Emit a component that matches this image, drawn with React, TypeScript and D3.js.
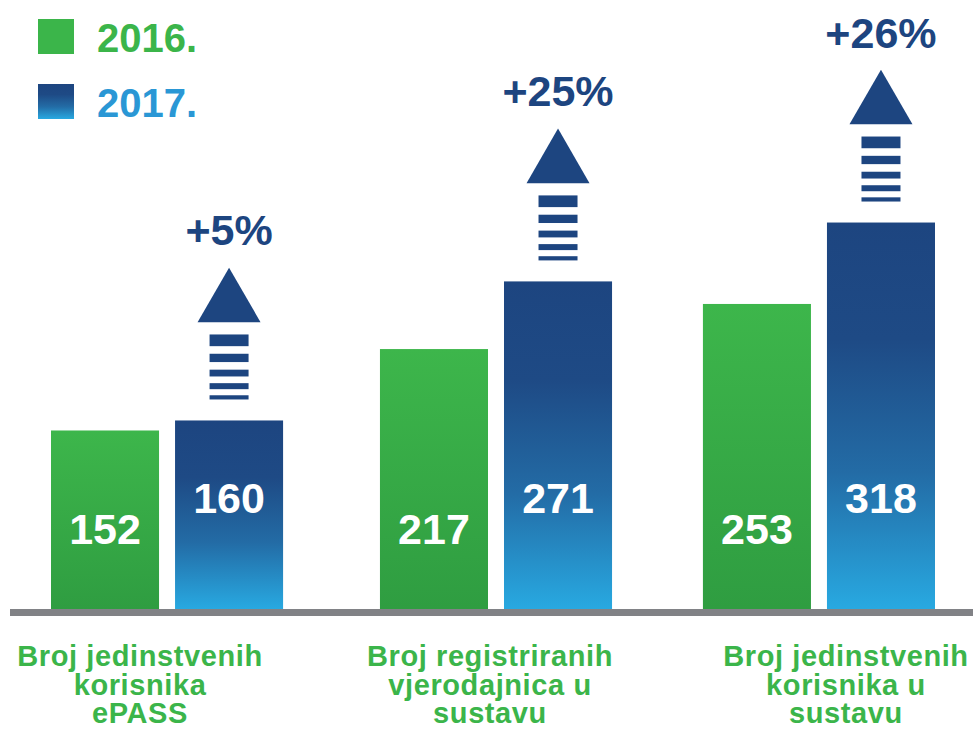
import React from "react";
import * as d3 from "d3";

// category labels (each line of the wrapped label)
const categories = [
  ["Broj jedinstvenih", "korisnika", "ePASS"],
  ["Broj registriranih", "vjerodajnica u", "sustavu"],
  ["Broj jedinstvenih", "korisnika u", "sustavu"],
];
const years = ["2016.", "2017."];
const values2016 = [152, 217, 253];
const values2017 = [160, 271, 318];
const growthLabels = ["+5%", "+25%", "+26%"];

const W = 973;
const H = 729;
const FONT = "'Liberation Sans', Arial, Helvetica, sans-serif";
const GREEN = "#3bb54a";
const NAVY = "#1d4580";
const LIGHT_BLUE = "#2a97d5";

// the middle group sits a little right of an even spacing in the original
const groupNudge = [0, 3, 0];
// labels below the axis are not exactly centred on their groups
const labelShift = [-27, -6, 27];

// stripes of the arrow, relative to the arrow's bottom
const stripes = [
  [-65, -53.3],
  [-45.7, -37.4],
  [-29.8, -23],
  [-16.3, -10.3],
  [-4.2, 0],
];

export default function App() {
  const keys = categories.map((_, i) => String(i));
  const baseline = 609;

  const x = d3.scaleBand<string>().domain(keys).range([51, 935]).paddingInner(0.288);
  const xs = d3.scaleBand<string>().domain(years).range([0, x.bandwidth()]).paddingInner(0.129);
  const y = d3.scaleLinear().domain([9.5, 330]).range([baseline, 207.5]);

  const series = [values2016, values2017];
  const gx = (k: string, i: number) => x(k)! + groupNudge[i];

  return (
    <svg
      width={W}
      height={H}
      style={{ position: "absolute", left: 0, top: 0, background: "#fff" }}
      fontFamily={FONT}
      fontWeight="bold"
    >
      <defs>
        <linearGradient id="gGreen" x1="0" y1="0" x2="0" y2="1">
          <stop offset="0" stopColor="#3db64b" />
          <stop offset="1" stopColor="#2f9d41" />
        </linearGradient>
        <linearGradient id="gBlue" x1="0" y1="0" x2="0" y2="1">
          <stop offset="0" stopColor="#1d4580" />
          <stop offset="0.3" stopColor="#1e4a85" />
          <stop offset="0.65" stopColor="#236ca6" />
          <stop offset="1" stopColor="#28a9e1" />
        </linearGradient>
      </defs>

      {/* legend */}
      <rect x={38} y={19} width={36} height={35} fill={GREEN} />
      <text x={97} y={52} fontSize={40} fill={GREEN}>{years[0]}</text>
      <rect x={38} y={84} width={36} height={35} fill="url(#gBlue)" />
      <text x={97} y={117} fontSize={40} fill={LIGHT_BLUE}>{years[1]}</text>

      {/* bars */}
      {keys.map((k, i) => (
        <g key={k} transform={`translate(${gx(k, i)},0)`}>
          {years.map((yr, j) => {
            const v = series[j][i];
            const bx = xs(yr)!;
            const bw = xs.bandwidth();
            return (
              <g key={yr}>
                <rect
                  x={bx}
                  y={y(v)}
                  width={bw}
                  height={baseline - y(v)}
                  fill={j === 0 ? "url(#gGreen)" : "url(#gBlue)"}
                />
                <text
                  x={bx + bw / 2}
                  y={j === 0 ? 544 : 513}
                  textAnchor="middle"
                  fontSize={43}
                  fill="#fff"
                >
                  {v}
                </text>
              </g>
            );
          })}
          {(() => {
            const cx = xs("2017.")! + xs.bandwidth() / 2;
            const bottom = y(values2017[i]) - 21;
            return (
              <g>
                {stripes.map(([t, b], s) => (
                  <rect key={s} x={cx - 19.5} y={bottom + t} width={39} height={b - t} fill={NAVY} />
                ))}
                <path
                  d={`M${cx},${bottom - 131.8}L${cx + 31.5},${bottom - 77.2}L${cx - 31.5},${bottom - 77.2}Z`}
                  fill={NAVY}
                />
                <text x={cx} y={bottom - 154} textAnchor="middle" fontSize={43} fill={NAVY}>
                  {growthLabels[i]}
                </text>
              </g>
            );
          })()}
        </g>
      ))}

      {/* baseline */}
      <rect x={10} y={baseline} width={W - 10} height={7} fill="#818286" />

      {/* category labels */}
      {keys.map((k, i) => {
        const cx = gx(k, i) + x.bandwidth() / 2 + labelShift[i];
        return (
          <text key={k} textAnchor="middle" fontSize={29} letterSpacing={0.6} fill={GREEN}>
            {categories[i].map((line, l) => (
              <tspan key={l} x={cx} y={666 + l * 28.7}>
                {line}
              </tspan>
            ))}
          </text>
        );
      })}
    </svg>
  );
}
